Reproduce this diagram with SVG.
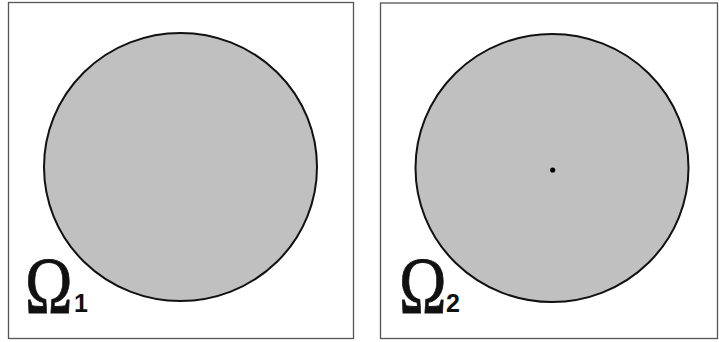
<svg xmlns="http://www.w3.org/2000/svg" width="719" height="342" viewBox="0 0 719 342">
<style>
.frame{fill:#fff;stroke:#555;stroke-width:1.3}
.disk{fill:#c0c0c0;stroke:#111;stroke-width:2}
.om{font-family:"Liberation Serif",serif;font-size:81px;fill:#111;stroke:#111;stroke-width:0.8}
.sub{font-family:"Liberation Sans",sans-serif;font-weight:bold;font-size:25px;fill:#111}
</style>
<rect width="719" height="342" fill="#fff"/>
<g id="omega1">
<rect class="frame" x="8.5" y="2.5" width="345" height="336"/>
<ellipse class="disk" cx="180.5" cy="167" rx="136.5" ry="134"/>
<text x="25" y="313" class="om" transform="translate(25 0) scale(0.79 1) translate(-25 0)">Ω</text>
<text x="74" y="312" class="sub">1</text>
</g>
<g id="omega2">
<rect class="frame" x="380.5" y="3" width="337" height="335.5"/>
<ellipse class="disk" cx="552" cy="168" rx="136.5" ry="134"/>
<circle cx="552.7" cy="170" r="2.6" fill="#000"/>
<text x="399" y="313" class="om" transform="translate(399 0) scale(0.79 1) translate(-399 0)">Ω</text>
<text x="446" y="312" class="sub">2</text>
</g>
<g id="connectors"></g>
</svg>
